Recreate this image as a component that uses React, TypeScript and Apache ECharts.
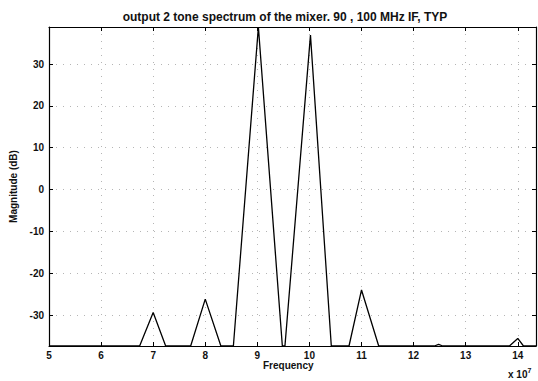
import React, { useEffect, useRef } from "react";
import * as echarts from "echarts";

// Frequency in units of 10^7 Hz
const freqE7 = [5, 6.74, 7.0, 7.24, 7.72, 8.0, 8.3, 8.54, 9.02, 9.48, 9.53, 10.02, 10.42, 10.76, 11.0, 11.33, 12.4, 12.48, 12.56, 13.84, 14.0, 14.11, 14.35];
// Magnitude in dB
const magDb = [-37.4, -37.4, -29.4, -37.4, -37.4, -26.2, -37.4, -37.4, 38.85, -37.4, -37.4, 36.9, -37.4, -37.4, -24.0, -37.4, -37.4, -37.0, -37.4, -37.4, -35.6, -37.4, -37.4];

const xTicks = [5, 6, 7, 8, 9, 10, 11, 12, 13, 14];
const yTicks = [-30, -20, -10, 0, 10, 20, 30];

const X_MIN = 5;
const X_MAX = 14.35;
const Y_MIN = -37.4;
const Y_MAX = 38.85;

const titleText = "output 2 tone spectrum of the mixer. 90 , 100 MHz IF, TYP";
const xName = "Frequency";
const yName = "Magnitude (dB)";

const FONT = "Liberation Sans, Arial, sans-serif";

export default function App() {
  const ref = useRef<HTMLDivElement>(null);
  useEffect(() => {
    if (!ref.current) return;
    const chart = echarts.init(ref.current, undefined, { renderer: "svg" });
    const gridLine = { show: true, lineStyle: { color: "#b5b5b5", type: [1, 6] as any, width: 1 } };
    const baseX = (pos: "bottom" | "top", showLabels: boolean) => ({
      type: "value" as const,
      position: pos,
      min: X_MIN,
      max: X_MAX,
      axisLine: { show: true, onZero: false, lineStyle: { color: "#000", width: 1.2 } },
      axisTick: { show: true, inside: true, length: 4, customValues: xTicks, lineStyle: { color: "#000" } },
      axisLabel: {
        show: showLabels,
        customValues: xTicks,
        color: "#111",
        fontFamily: FONT,
        fontSize: 10,
        fontWeight: "bold",
        margin: 4,
      },
      splitLine: pos === "bottom" ? gridLine : { show: false },
    });
    const baseY = (pos: "left" | "right", showLabels: boolean) => ({
      type: "value" as const,
      position: pos,
      min: Y_MIN,
      max: Y_MAX,
      axisLine: { show: true, onZero: false, lineStyle: { color: "#000", width: 1.2 } },
      axisTick: { show: true, inside: true, length: 4, customValues: yTicks, lineStyle: { color: "#000" } },
      axisLabel: {
        show: showLabels,
        customValues: yTicks,
        color: "#111",
        fontFamily: FONT,
        fontSize: 10,
        fontWeight: "bold",
        margin: 5,
      },
      splitLine: pos === "left" ? gridLine : { show: false },
    });
    chart.setOption({
      animation: false,
      backgroundColor: "#fff",
      title: {
        text: titleText,
        left: 280,
        top: 6,
        textAlign: "center",
        textStyle: { fontFamily: FONT, fontSize: 12, fontWeight: "bold", color: "#111" },
      },
      grid: { left: 48, right: 2, top: 27, bottom: 35 },
      xAxis: [baseX("bottom", true), baseX("top", false)],
      yAxis: [
        {
          ...baseY("left", true),
          name: yName,
          nameLocation: "middle",
          nameGap: 31,
          nameRotate: 90,
          nameTextStyle: { fontFamily: FONT, fontSize: 10, fontWeight: "bold", color: "#111" },
        },
        baseY("right", false),
      ],
      graphic: [
        {
          type: "text",
          left: 263,
          top: 360,
          style: { text: xName, font: `bold 10px ${FONT}`, fill: "#111" },
        },
        {
          type: "text",
          left: 508,
          top: 367,
          style: {
            text: "x 10{s|7}",
            font: `bold 10px ${FONT}`,
            fill: "#111",
            rich: { s: { fontSize: 7, fontWeight: "bold", verticalAlign: "top", padding: [0, 0, 7, 0], fontFamily: FONT } },
          } as any,
        },
      ],
      series: [
        {
          type: "line",
          xAxisIndex: 0,
          yAxisIndex: 0,
          data: freqE7.map((f, i) => [f, magDb[i]]),
          showSymbol: false,
          symbol: "none",
          clip: true,
          lineStyle: { color: "#000", width: 1.3 },
        },
      ],
    });
    return () => chart.dispose();
  }, []);
  return <div ref={ref} style={{ width: 538, height: 381, position: "absolute", left: 0, top: 0 }} />;
}
